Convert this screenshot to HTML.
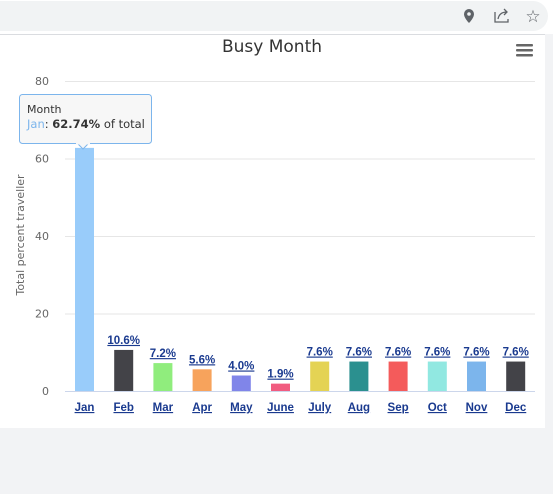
<!DOCTYPE html>
<html><head><meta charset="utf-8"><style>
body{margin:0;width:553px;height:494px;background:#f2f3f5;overflow:hidden;font-family:"Liberation Sans",sans-serif}
svg{position:absolute;left:0;top:0}
</style></head><body>
<svg width="553" height="494">
<rect x="0" y="0" width="553" height="34" fill="#fff"/>
<rect x="-20" y="1" width="568" height="30" rx="15" fill="#f1f3f4"/>
<line x1="0" y1="34.5" x2="545" y2="34.5" stroke="#dadce0"/>
<rect x="0" y="35" width="545" height="393" fill="#fff"/>
<g><path d="M469 9a5 5 0 0 1 5 5c0 4-5 9-5 9s-5-5-5-9a5 5 0 0 1 5-5z" fill="#5f6368"/><circle cx="469" cy="14" r="1.8" fill="#f1f3f4"/></g>
<g fill="none" stroke="#5f6368" stroke-width="1.3"><path d="M495 12v10h13v-3"/><path d="M498 19c1-5 4-7 9-7M504 9l3 3-3 3"/></g>
<text x="533" y="22" font-size="17" fill="#5f6368" text-anchor="middle">☆</text>
<text x="272" y="52" font-size="17" fill="#333" text-anchor="middle" font-family="DejaVu Sans">Busy Month</text>
<g fill="#666"><rect x="516" y="44" width="17" height="2.5" rx="1"/><rect x="516" y="49" width="17" height="2.5" rx="1"/><rect x="516" y="54" width="17" height="2.5" rx="1"/></g>
<text transform="translate(24,235) rotate(-90)" font-size="11" fill="#666" text-anchor="middle" font-family="DejaVu Sans">Total percent traveller</text>
<g id="grid"></g><g id="bars"></g>
<g>
<rect x="19.5" y="94.5" width="132" height="49" rx="3" fill="#f7f7f7" stroke="#7cb5ec"/>
<path d="M78 144l5 5 5-5z" fill="#f7f7f7" stroke="#7cb5ec"/>
<rect x="76" y="142" width="14" height="2.5" fill="#f7f7f7"/>
<text x="27" y="113" font-size="11" fill="#333" font-family="DejaVu Sans">Month</text>
<text x="27" y="128" font-size="11.5" fill="#333" font-family="DejaVu Sans"><tspan fill="#7cb5ec">Jan</tspan>: <tspan font-weight="bold">62.74%</tspan> of total</text>
</g>
</svg>
<script>
const categories=["Jan","Feb","Mar","Apr","May","June","July","Aug","Sep","Oct","Nov","Dec"];
const values=[62.74,10.6,7.2,5.6,4.0,1.9,7.6,7.6,7.6,7.6,7.6,7.6];
const colors=["#99ccfa","#434348","#90ed7d","#f7a35c","#8085e9","#f15c80","#e4d354","#2b908f","#f45b5b","#91e8e1","#7cb5ec","#434348"];
const yTicks=[0,20,40,60,80];
const NS="http://www.w3.org/2000/svg";
const y=v=>391-v*(391-81)/80;
const x=i=>84.5+i*39.2;
function mk(t,a,p){const e=document.createElementNS(NS,t);for(const k in a)e.setAttribute(k,a[k]);p.appendChild(e);return e;}
const g=document.getElementById('grid'),b=document.getElementById('bars');
yTicks.forEach(t=>{
 const l=mk('line',{x1:65,x2:535,y1:y(t)+.5,y2:y(t)+.5,stroke:t?'#e6e6e6':'#ccd6eb'},g);
 
 
 const tx=mk('text',{x:49,y:y(t)+4,'font-size':11,fill:'#666','text-anchor':'end','font-family':'DejaVu Sans'},g);
 tx.textContent=t;
 
 
});
categories.forEach((c,i)=>{
 const r=mk('rect',{x:x(i)-9.5,y:y(values[i]),width:19,height:391-y(values[i]),fill:colors[i]},b);
 
 
 const lb=mk('text',{x:x(i),y:y(values[i])-6,'font-size':11.5,'font-weight':'bold',fill:i?'#1a3a8f':'#c8d8ef','text-anchor':'middle','text-decoration':'underline'},b);
 lb.textContent=values[i].toFixed(1)+'%';
 
 
 const xl=mk('text',{x:x(i),y:411,'font-size':11.5,'font-weight':'bold',fill:'#1a3a8f','text-anchor':'middle','text-decoration':'underline'},b);
 xl.textContent=c;
 
 
});
</script>
</body></html>
